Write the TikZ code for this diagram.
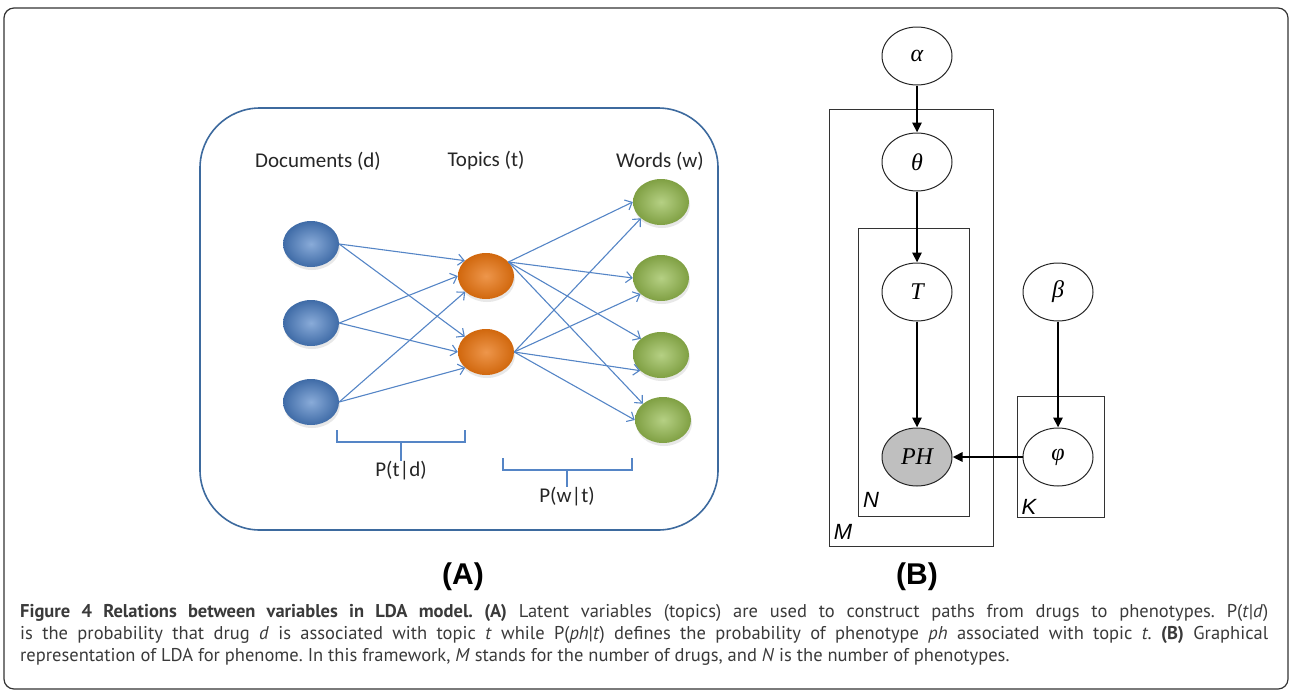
\documentclass[tikz,border=0pt]{standalone}
\usepackage{fontspec}
\setmainfont{Liberation Serif}
\newfontfamily\capfont{PT Sans}
\newfontfamily\calfont{Carlito}
\newfontfamily\arialfont{Liberation Sans}
\newfontfamily\timesfont{Liberation Serif}
\usetikzlibrary{shapes.geometric,arrows.meta,shadows}
\definecolor{docblue}{HTML}{4A7EC4}
\definecolor{toporange}{HTML}{E8730F}
\definecolor{wordgreen}{HTML}{96BC4F}
\definecolor{arrblue}{HTML}{5585C6}
\definecolor{boxblue}{HTML}{3D6A9E}
\definecolor{captxt}{HTML}{3A3A3A}
\frenchspacing
\tikzset{
  pa/.style={ellipse, minimum width=56pt, minimum height=46pt, inner sep=0pt,
    drop shadow={opacity=0.18, shadow xshift=1pt, shadow yshift=-3pt}},
  docnode/.style={pa, inner color=docblue!65!white, outer color=docblue!85!black},
  topnode/.style={pa, inner color=toporange!75!white, outer color=toporange!90!black},
  wordnode/.style={pa, inner color=wordgreen!70!white, outer color=wordgreen!85!black},
  aarr/.style={draw=arrblue, line width=1.1pt, -{Straight Barb[length=6pt,width=11pt]}},
  brk/.style={draw=arrblue, line width=1.3pt},
  alabel/.style={font=\calfont\fontsize{21}{21}\selectfont, text=black!85, inner sep=0pt},
  bnode/.style={ellipse, draw=black!85, line width=1pt, minimum width=70pt, minimum height=58pt,
    inner sep=0pt, font=\timesfont\itshape\fontsize{24}{24}\selectfont},
  barr/.style={line width=2.6pt, -{Triangle[length=10pt,width=9pt]}},
  plate/.style={draw=black!80, line width=1pt},
  platelabel/.style={font=\arialfont\itshape\fontsize{22}{22}\selectfont, inner sep=0pt},
  panellabel/.style={font=\arialfont\bfseries\fontsize{30}{30}\selectfont, inner sep=0pt},
  capline/.style={font=\capfont\fontsize{18.5}{18.5}\selectfont\frenchspacing, text=captxt, inner sep=0pt, anchor=base west}
}
\begin{document}
\begin{tikzpicture}[x=1pt,y=-1pt]
\useasboundingbox (0,0) rectangle (1290,691);
% outer frame
\draw[line width=1.2pt, draw=black!80, rounded corners=10pt] (4,8) rectangle (1288,689);

% ---------------- Panel A ----------------
\draw[draw=boxblue, line width=1.6pt, rounded corners=60pt] (200,108) rectangle (718,530);
\node[alabel] (ldoc) at (318,161) {Documents (d)};
\node[alabel] (ltop) at (486,161) {Topics (t)};
\node[alabel] (lword) at (660,161) {Words (w)};

\node[docnode] (d1) at (311,244) {};
\node[docnode] (d2) at (311,323) {};
\node[docnode] (d3) at (311,402) {};
\node[topnode] (t1) at (486,276) {};
\node[topnode] (t2) at (486,352) {};
\node[wordnode] (w1) at (661,202) {};
\node[wordnode] (w2) at (661,278) {};
\node[wordnode] (w3) at (661,355) {};
\node[wordnode] (w4) at (663,420) {};

\draw[aarr] (d1.east) -- (t1.144);
\draw[aarr] (d1.east) -- (t2.144);
\draw[aarr] (d2.east) -- (t1.west);
\draw[aarr] (d2.east) -- (t2.west);
\draw[aarr] (d3.east) -- (t1.217);
\draw[aarr] (d3.east) -- (t2.217);

\draw[aarr] (t1.32) -- (w1.west);
\draw[aarr] (t1.32) -- (w2.west);
\draw[aarr] (t1.32) -- (w3.141);
\draw[aarr] (t1.32) -- (w4.141);
\draw[aarr] (t2.east) -- (w1.219);
\draw[aarr] (t2.east) -- (w2.218);
\draw[aarr] (t2.east) -- (w3.217);
\draw[aarr] (t2.east) -- (w4.west);

\node[alabel] (ptd) at (401,471) {P(t|d)};
\node[alabel] (pwt) at (567,497) {P(w|t)};
\draw[brk] (337,430) -- (337,442) -- (465,442) -- (465,430);
\draw[brk] (401,442) -- (ptd.north);
\draw[brk] (503,458) -- (503,470) -- (632,470) -- (632,458);
\draw[brk] (567,470) -- (pwt.north);

\node[panellabel] (pA) at (463,577) {(A)};

% ---------------- Panel B ----------------
\draw[plate] (829,109) rectangle (993,546);
\draw[plate] (858,228) rectangle (969,516);
\draw[plate] (1017,396) rectangle (1104,517);
\node[platelabel] (lM) at (843,532) {M};
\node[platelabel] (lN) at (871,500) {N};
\node[platelabel] (lK) at (1029,507) {K};

\node[bnode] (alpha) at (917,56) {α};
\node[bnode] (theta) at (917,162) {θ};
\node[bnode] (T) at (917,292) {T};
\node[bnode, fill=black!25] (PH) at (917,457) {PH};
\node[bnode] (beta) at (1058,292) {β};
\node[bnode] (phi) at (1058,457) {φ};

\draw[barr] (alpha) -- (theta);
\draw[barr] (theta) -- (T);
\draw[barr] (T) -- (PH);
\draw[barr] (beta) -- (phi);
\draw[barr] (phi) -- (PH);

\node[panellabel] (pB) at (917,577) {(B)};

% ---------------- Caption ----------------
\node[capline] (c1) at (20,617) {\makebox[1248pt][s]{\textbf{Figure 4 Relations between variables in LDA model. (A)} Latent variables (topics) are used to construct paths from drugs to phenotypes. P(\textit{t}|\textit{d})}};
\node[capline] (c2) at (20,639) {\makebox[1248pt][s]{is the probability that drug \textit{d} is associated with topic \textit{t} while P(\textit{ph}|\textit{t}) defines the probability of phenotype \textit{ph} associated with topic \textit{t}. \textbf{(B)} Graphical}};
\node[capline] (c3) at (20,661) {representation of LDA for phenome. In this framework, \textit{M} stands for the number of drugs, and \textit{N} is the number of phenotypes.};
\end{tikzpicture}
\end{document}
